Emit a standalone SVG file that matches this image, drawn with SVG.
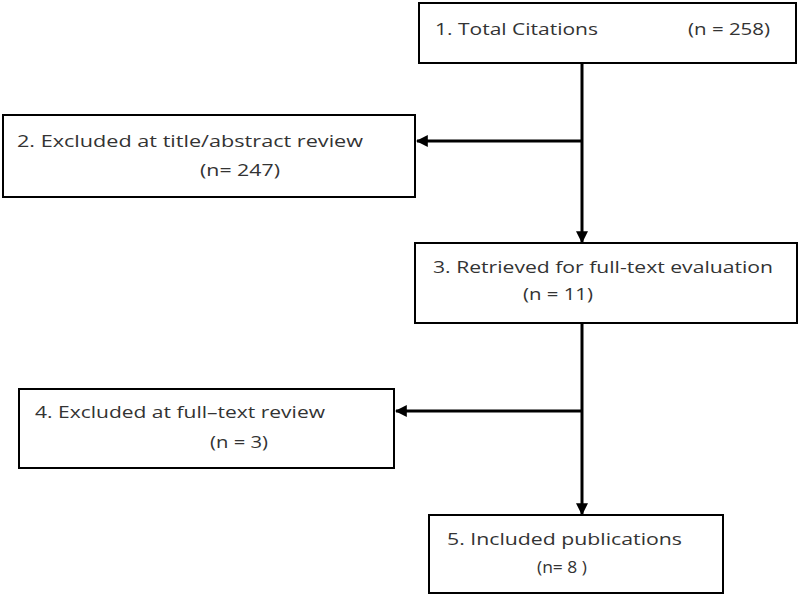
<svg xmlns="http://www.w3.org/2000/svg" width="800" height="597" viewBox="0 0 800 597">
<style>
.box{fill:#fff;stroke:#000;stroke-width:2}
.t{font-family:"Open Sans","Liberation Sans",sans-serif;font-size:17px;fill:#333}
.c{stroke:#000;stroke-width:3;fill:none}
</style>
<defs>
<marker id="ah" viewBox="0 0 10 10" refX="9" refY="5" markerWidth="4" markerHeight="4" orient="auto" markerUnits="strokeWidth">
<path d="M0,0 L10,5 L0,10 z" fill="#000"/>
</marker>
</defs>
<rect width="800" height="597" fill="#fff"/>
<g id="connectors">
<line class="c" x1="582" y1="63" x2="582" y2="242" marker-end="url(#ah)"/>
<line class="c" x1="582" y1="141" x2="417" y2="141" marker-end="url(#ah)"/>
<line class="c" x1="582" y1="323" x2="582" y2="514" marker-end="url(#ah)"/>
<line class="c" x1="582" y1="411" x2="396" y2="411" marker-end="url(#ah)"/>
</g>
<g id="n1">
<rect class="box" x="419" y="3" width="377" height="60"/>
<text class="t" x="435" y="35" textLength="163" lengthAdjust="spacingAndGlyphs">1. Total Citations</text>
<text class="t" x="688" y="35" textLength="82" lengthAdjust="spacingAndGlyphs">(n = 258)</text>
</g>
<g id="n2">
<rect class="box" x="3" y="115" width="412" height="82"/>
<text class="t" x="17" y="147" textLength="346" lengthAdjust="spacingAndGlyphs">2.  Excluded at title/abstract review</text>
<text class="t" x="200" y="176" textLength="80" lengthAdjust="spacingAndGlyphs">(n=  247)</text>
</g>
<g id="n3">
<rect class="box" x="415" y="243" width="382" height="80"/>
<text class="t" x="433" y="273" textLength="340" lengthAdjust="spacingAndGlyphs">3. Retrieved for full-text evaluation</text>
<text class="t" x="523" y="300" textLength="70" lengthAdjust="spacingAndGlyphs">(n = 11)</text>
</g>
<g id="n4">
<rect class="box" x="19" y="389" width="375" height="79"/>
<text class="t" x="35" y="418" textLength="290" lengthAdjust="spacingAndGlyphs">4. Excluded at full–text review</text>
<text class="t" x="210" y="448" textLength="58" lengthAdjust="spacingAndGlyphs">(n =  3)</text>
</g>
<g id="n5">
<rect class="box" x="429" y="515" width="294" height="78"/>
<text class="t" x="447" y="545" textLength="235" lengthAdjust="spacingAndGlyphs">5.  Included publications</text>
<text class="t" x="537" y="573" textLength="50" lengthAdjust="spacingAndGlyphs">(n= 8 )</text>
</g>
</svg>
